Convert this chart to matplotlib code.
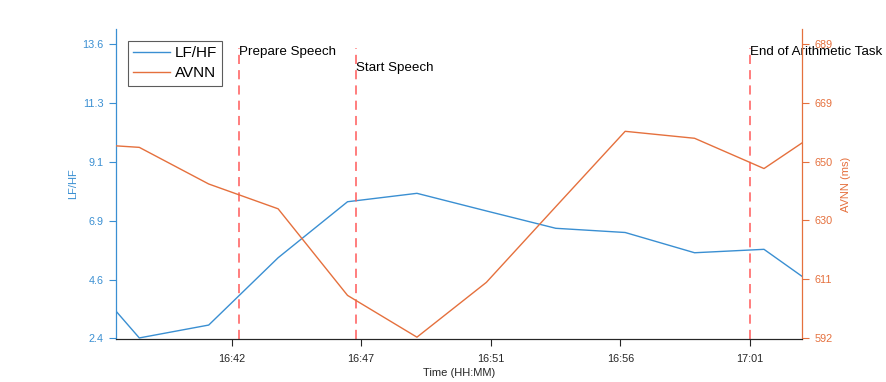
import matplotlib
matplotlib.use("Agg")
import matplotlib.pyplot as plt
import numpy as np

plt.rcParams['font.family'] = ['Liberation Sans', 'DejaVu Sans']

# time in minutes after 16:00 (first/last points sit on the axis edges)
minutes = [37.83, 38.67, 41.17, 43.67, 46.17, 48.67, 51.17, 53.67, 56.17, 58.67, 61.17, 62.53]
lf_hf = [3.44, 2.42, 2.91, 5.47, 7.60, 7.92, 7.25, 6.59, 6.43, 5.66, 5.79, 4.77]
avnn = [655.4, 654.9, 642.8, 634.6, 606.0, 592.2, 610.3, 635.3, 660.2, 657.9, 647.9, 656.3]

x_ticks = [42.0, 46.66, 51.33, 56.0, 60.66]
x_labels = ['16:42', '16:47', '16:51', '16:56', '17:01']
left_ticks = [2.4, 4.64, 6.88, 9.12, 11.36, 13.6]
left_labels = ['2.4', '4.6', '6.9', '9.1', '11.3', '13.6']
right_ticks = [592, 611.4, 630.8, 650.2, 669.6, 689]
right_labels = ['592', '611', '630', '650', '669', '689']

events = [42.26, 46.48, 60.66]
event_names = ['Prepare Speech', 'Start Speech', 'End of Arithmetic Task']
event_text_y = [0.926, 0.874, 0.926]

blue = '#3a8fd2'
orange = '#e5703d'
axcol = '#262626'

fig = plt.figure(figsize=(8.86, 3.82), dpi=100)
ax = fig.add_axes([0.1309, 0.1126, 0.7740, 0.8115])
ax2 = ax.twinx()

l1, = ax.plot(minutes, lf_hf, color=blue, lw=1.0, label='LF/HF')
l2, = ax2.plot(minutes, avnn, color=orange, lw=1.0, label='AVNN')

ax.set_xlim(minutes[0], minutes[-1])
ax.set_ylim(2.38, 14.17)
ax2.set_ylim(591.6, 694.0)

for xe, name, ty in zip(events, event_names, event_text_y):
    ax.axvline(xe, ymin=0, ymax=0.94, color='#ff5a5a', lw=1.1, ls=(0, (6, 4)))
    ax.text(xe, ty, name, transform=ax.get_xaxis_transform(), fontsize=9.6,
            ha='left', va='center', color='black', zorder=5)

ax.set_xticks(x_ticks)
ax.set_xticklabels(x_labels)
ax.set_yticks(left_ticks)
ax.set_yticklabels(left_labels)
ax2.set_yticks(right_ticks)
ax2.set_yticklabels(right_labels)

ax.tick_params(axis='x', colors=axcol, labelsize=7.8, length=5, width=0.8, pad=6)
ax.tick_params(axis='y', colors=blue, labelsize=7.8, length=5, width=0.8, pad=4)
ax2.tick_params(axis='y', colors=orange, labelsize=7.8, length=5, width=0.8, pad=4)

for a in (ax, ax2):
    a.spines['top'].set_visible(False)
    a.spines['bottom'].set_color(axcol)
    a.spines['bottom'].set_linewidth(0.8)
ax.spines['right'].set_visible(False)
ax2.spines['left'].set_visible(False)
ax.spines['left'].set_color(blue)
ax2.spines['right'].set_color(orange)
ax.spines['left'].set_linewidth(0.9)
ax2.spines['right'].set_linewidth(0.9)

ax.set_xlabel('Time (HH:MM)', fontsize=8, color=axcol, labelpad=3)
ax.set_ylabel('LF/HF', fontsize=8, color=blue, labelpad=3)
ax2.set_ylabel('AVNN (ms)', fontsize=8, color=orange, labelpad=6)

leg = ax2.legend(handles=[l1, l2], loc='upper left', bbox_to_anchor=(0.0175, 0.962),
                 fontsize=11, frameon=True, fancybox=False, borderaxespad=0,
                 handlelength=2.4, handletextpad=0.3, borderpad=0.35, labelspacing=0.4)
leg.get_frame().set_edgecolor('#333333')
leg.get_frame().set_linewidth(0.8)
leg.set_zorder(10)

fig.savefig('out.png', dpi=100)
